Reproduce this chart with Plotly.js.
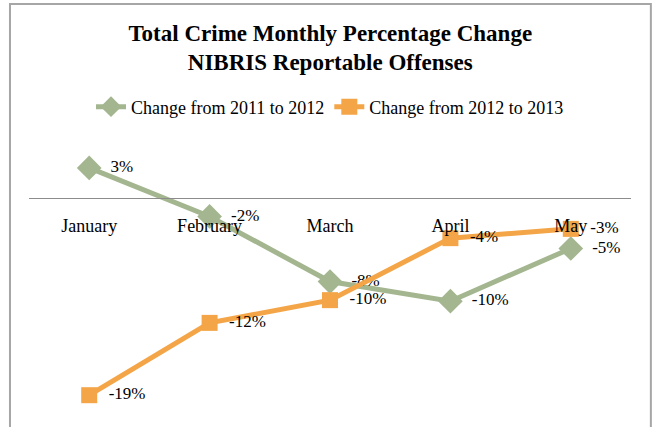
<!DOCTYPE html>
<html>
<head>
<meta charset="utf-8">
<script src="https://cdn.plot.ly/plotly-3.0.1.min.js"></script>
<style>html,body{margin:0;padding:0;background:#fff;}#chart{width:654px;height:427px;}</style>
</head>
<body>
<div id="chart"></div>
<script>
var months = ["January", "February", "March", "April", "May"];
var change2011to2012 = [2.9, -1.8, -8.1, -10.0, -4.9];
var change2012to2013 = [-19.1, -12.1, -9.9, -3.9, -3.0];
var seriesNames = ["Change from 2011 to 2012", "Change from 2012 to 2013"];

var fontFam = "Liberation Serif, DejaVu Serif, serif";

var traces = [
  {
    x: months, y: change2011to2012, name: seriesNames[0],
    type: "scatter", mode: "lines+markers+text",
    line: {color: "#a3b68f", width: 5},
    marker: {symbol: "diamond", size: 19, color: "#a3b68f"},
    texttemplate: "\u00a0\u00a0%{y:.0f}%", textposition: "middle right",
    textfont: {family: fontFam, size: 17, color: "#000"},
    cliponaxis: false
  },
  {
    x: months, y: change2012to2013, name: seriesNames[1],
    type: "scatter", mode: "lines+markers+text",
    line: {color: "#f4a547", width: 5},
    marker: {symbol: "square", size: 16, color: "#f4a547"},
    texttemplate: "\u00a0\u00a0%{y:.0f}%", textposition: "middle right",
    textfont: {family: fontFam, size: 17, color: "#000"},
    cliponaxis: false
  }
];

var layout = {
  width: 654, height: 427,
  margin: {l: 29, r: 23, t: 140, b: 7},
  paper_bgcolor: "#fff", plot_bgcolor: "#fff",
  font: {family: fontFam, size: 17, color: "#000"},
  title: {
    text: "<b>Total Crime Monthly Percentage Change<br>NIBRIS Reportable Offenses</b>",
    font: {family: fontFam, size: 23, color: "#000"},
    x: 0.505, xanchor: "center", y: 0.905, yanchor: "middle", yref: "container"
  },
  showlegend: true,
  legend: {
    orientation: "h", x: 0.5, xanchor: "center", y: 1.118, yanchor: "middle",
    font: {family: fontFam, size: 18, color: "#000"},
    itemwidth: 30, traceorder: "normal"
  },
  xaxis: {
    type: "category", range: [-0.5, 4.5],
    anchor: "free", position: 0.793,
    showline: true, linecolor: "#8c8c8c", linewidth: 1.5,
    showgrid: false, zeroline: false, ticks: "",
    ticklabelstandoff: 11,
    tickfont: {family: fontFam, size: 18, color: "#000"},
    fixedrange: true
  },
  yaxis: {
    range: [-21.5, 5.6], visible: false, showgrid: false, zeroline: false,
    fixedrange: true
  },
  shapes: [
    {type: "rect", xref: "paper", yref: "paper",
     x0: -0.0316, x1: 1.033, y0: -0.06, y1: 1.486,
     line: {color: "#a6a6a6", width: 2}, layer: "below"}
  ]
};

Plotly.newPlot("chart", traces, layout, {displayModeBar: false, staticPlot: true});
</script>
</body>
</html>
